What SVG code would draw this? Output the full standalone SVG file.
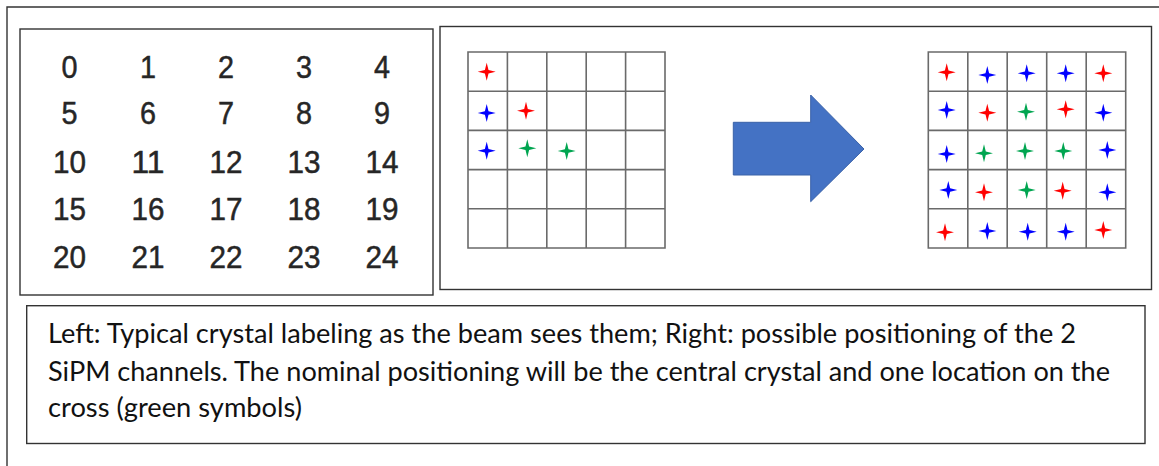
<svg xmlns="http://www.w3.org/2000/svg" xmlns:xlink="http://www.w3.org/1999/xlink" width="1159" height="466" viewBox="0 0 1159 466">
<style>
.frame{fill:none;stroke:#333;stroke-width:1.4}
.box{fill:#fff;stroke:#333;stroke-width:1.4}
.grid{fill:none;stroke:#6a6a6a;stroke-width:1.6}
.num{font-family:"Liberation Sans",Arial,sans-serif;font-size:32px;fill:#262626;stroke:#262626;stroke-width:0.5;text-anchor:middle}
.cap{font-family:Lato,"Noto Sans",sans-serif;font-size:26px;fill:#111}
.r{fill:#ff0000}.b{fill:#0000ff}.g{fill:#00a550}
</style>
<defs>
<path id="st" d="M0,-9 L1.8,-1.8 L9,0 L1.8,1.8 L0,9 L-1.8,1.8 L-9,0 L-1.8,-1.8 Z"/>
</defs>
<rect width="1159" height="466" fill="#fff"/>
<path class="frame" d="M1159,7 H7 V466"/>

<g id="labels">
<rect class="box" x="20" y="29" width="413" height="266"/>
<text class="num" x="69.5" y="78" textLength="16" lengthAdjust="spacingAndGlyphs">0</text>
<text class="num" x="148" y="78" textLength="16" lengthAdjust="spacingAndGlyphs">1</text>
<text class="num" x="226" y="78" textLength="16" lengthAdjust="spacingAndGlyphs">2</text>
<text class="num" x="304" y="78" textLength="16" lengthAdjust="spacingAndGlyphs">3</text>
<text class="num" x="382" y="78" textLength="16" lengthAdjust="spacingAndGlyphs">4</text>
<text class="num" x="69.5" y="124" textLength="16" lengthAdjust="spacingAndGlyphs">5</text>
<text class="num" x="148" y="124" textLength="16" lengthAdjust="spacingAndGlyphs">6</text>
<text class="num" x="226" y="124" textLength="16" lengthAdjust="spacingAndGlyphs">7</text>
<text class="num" x="304" y="124" textLength="16" lengthAdjust="spacingAndGlyphs">8</text>
<text class="num" x="382" y="124" textLength="16" lengthAdjust="spacingAndGlyphs">9</text>
<text class="num" x="69.5" y="173" textLength="33" lengthAdjust="spacingAndGlyphs">10</text>
<text class="num" x="148" y="173" textLength="33" lengthAdjust="spacingAndGlyphs">11</text>
<text class="num" x="226" y="173" textLength="33" lengthAdjust="spacingAndGlyphs">12</text>
<text class="num" x="304" y="173" textLength="33" lengthAdjust="spacingAndGlyphs">13</text>
<text class="num" x="382" y="173" textLength="33" lengthAdjust="spacingAndGlyphs">14</text>
<text class="num" x="69.5" y="220" textLength="33" lengthAdjust="spacingAndGlyphs">15</text>
<text class="num" x="148" y="220" textLength="33" lengthAdjust="spacingAndGlyphs">16</text>
<text class="num" x="226" y="220" textLength="33" lengthAdjust="spacingAndGlyphs">17</text>
<text class="num" x="304" y="220" textLength="33" lengthAdjust="spacingAndGlyphs">18</text>
<text class="num" x="382" y="220" textLength="33" lengthAdjust="spacingAndGlyphs">19</text>
<text class="num" x="69.5" y="268" textLength="33" lengthAdjust="spacingAndGlyphs">20</text>
<text class="num" x="148" y="268" textLength="33" lengthAdjust="spacingAndGlyphs">21</text>
<text class="num" x="226" y="268" textLength="33" lengthAdjust="spacingAndGlyphs">22</text>
<text class="num" x="304" y="268" textLength="33" lengthAdjust="spacingAndGlyphs">23</text>
<text class="num" x="382" y="268" textLength="33" lengthAdjust="spacingAndGlyphs">24</text>
</g>

<g id="positions">
<rect class="box" x="440" y="26.5" width="711.5" height="263"/>
<g id="grid-left">
<path class="grid" d="M468,52 H665 V248 H468 Z M507.4,52 V248 M546.8,52 V248 M586.2,52 V248 M625.6,52 V248 M468,91.2 H665 M468,130.4 H665 M468,169.6 H665 M468,208.8 H665"/>
<use href="#st" class="r" x="486.7" y="71.7"/>
<use href="#st" class="b" x="486.7" y="113"/>
<use href="#st" class="r" x="526" y="110.7"/>
<use href="#st" class="b" x="486.7" y="150.7"/>
<use href="#st" class="g" x="527.3" y="148.3"/>
<use href="#st" class="g" x="566.7" y="151"/>
</g>
<g id="arrow">
<path d="M733.3,122.3 H810.7 V95 L864,149 L810.7,201.7 V175 H733.3 Z" fill="#4472c4" stroke="#3a62a8" stroke-width="1"/>
</g>
<g id="grid-right">
<path class="grid" d="M928.3,52 H1125.7 V248 H928.3 Z M967.8,52 V248 M1007.2,52 V248 M1046.7,52 V248 M1086.2,52 V248 M928.3,91.2 H1125.7 M928.3,130.4 H1125.7 M928.3,169.6 H1125.7 M928.3,208.8 H1125.7"/>
<use href="#st" class="r" x="946.7" y="72.3"/>
<use href="#st" class="b" x="987.3" y="75"/>
<use href="#st" class="b" x="1026.7" y="73.3"/>
<use href="#st" class="b" x="1065.7" y="73.3"/>
<use href="#st" class="r" x="1103.3" y="73.3"/>
<use href="#st" class="b" x="946.7" y="110"/>
<use href="#st" class="r" x="987.3" y="112.7"/>
<use href="#st" class="g" x="1026" y="111.7"/>
<use href="#st" class="r" x="1065.7" y="109.3"/>
<use href="#st" class="b" x="1103.3" y="112.7"/>
<use href="#st" class="b" x="946.7" y="154"/>
<use href="#st" class="g" x="984" y="153.3"/>
<use href="#st" class="g" x="1025" y="151"/>
<use href="#st" class="g" x="1063.3" y="151"/>
<use href="#st" class="b" x="1107.3" y="150"/>
<use href="#st" class="b" x="948.3" y="190"/>
<use href="#st" class="r" x="984" y="192.3"/>
<use href="#st" class="g" x="1026.7" y="190"/>
<use href="#st" class="r" x="1062.7" y="190.7"/>
<use href="#st" class="b" x="1107.3" y="192.3"/>
<use href="#st" class="r" x="945" y="232.3"/>
<use href="#st" class="b" x="987.3" y="231"/>
<use href="#st" class="b" x="1027.7" y="231.7"/>
<use href="#st" class="b" x="1065.7" y="231.7"/>
<use href="#st" class="r" x="1103.3" y="230"/>
</g>
</g>

<g id="caption">
<rect class="box" x="26.7" y="305.7" width="1118.3" height="137.8"/>
<text class="cap" x="48" y="343" textLength="1028" lengthAdjust="spacingAndGlyphs">Left: Typical crystal labeling as the beam sees them; Right: possible positioning of the 2</text>
<text class="cap" x="48" y="381" textLength="1062" lengthAdjust="spacingAndGlyphs">SiPM channels. The nominal positioning will be the central crystal and one location on the</text>
<text class="cap" x="48" y="417" textLength="254" lengthAdjust="spacingAndGlyphs">cross (green symbols)</text>
</g>
</svg>
